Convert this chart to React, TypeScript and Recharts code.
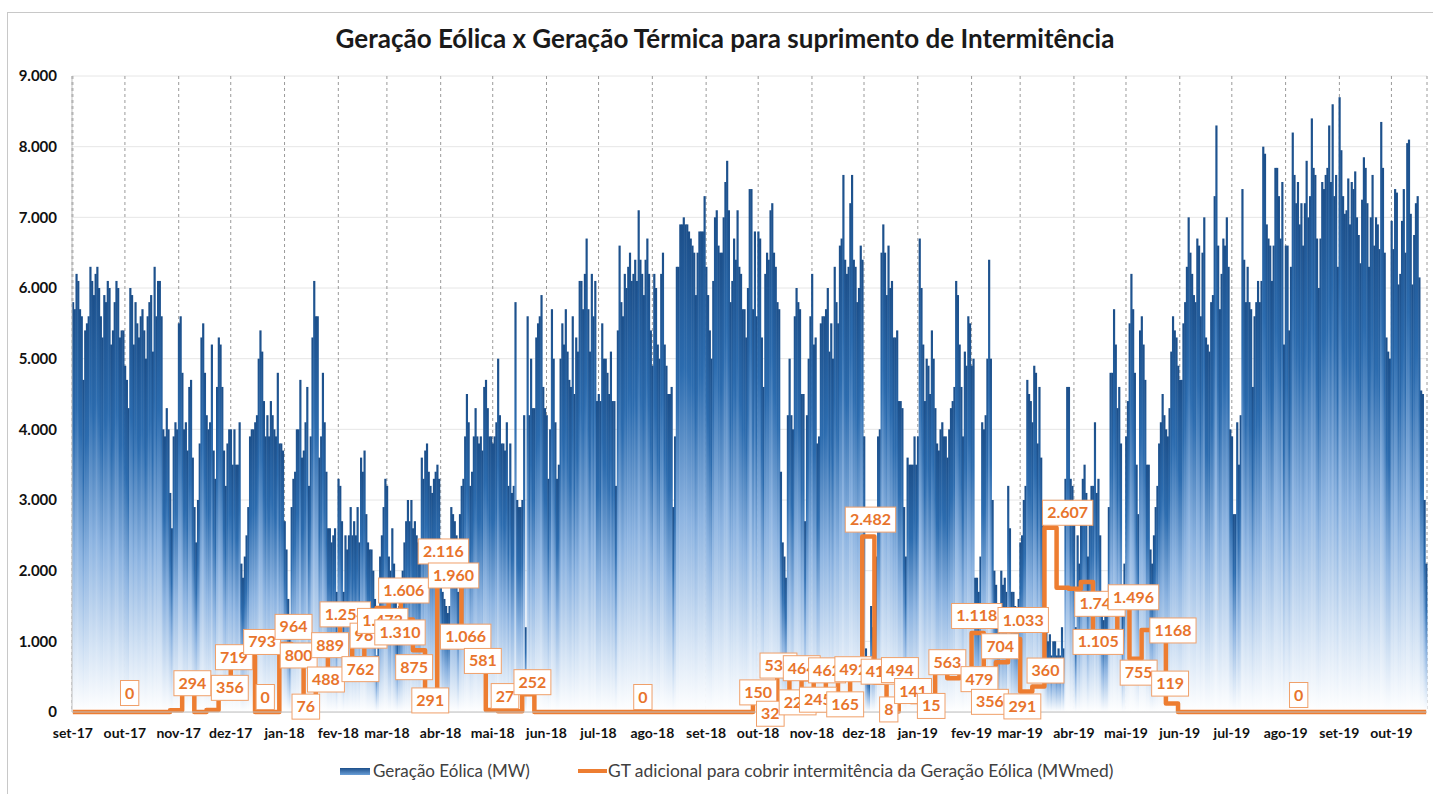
import { ComposedChart, Bar, Line, XAxis, YAxis, CartesianGrid, LabelList } from "recharts";

// Geração eólica diária (MW), um array por mês
const set17 = [5800, 5700, 6200, 6100, 5700, 5600, 4700, 5400, 5500, 5600, 6300, 6100, 5900, 6200, 6300, 6000, 5600, 5300, 5900, 5800, 6100, 6000, 5200, 5400, 5800, 6100, 6000, 5300, 5400, 5400];
const out17 = [4900, 4700, 4300, 6000, 5900, 5200, 5800, 5500, 5300, 5600, 5700, 5400, 5000, 5600, 5800, 5900, 5100, 6300, 5600, 6100, 6100, 5600, 4000, 3900, 4300, 4000, 3100, 2600, 3900, 4100, 4000];
const nov17 = [5500, 5600, 4800, 4000, 4100, 3700, 4600, 4700, 3600, 2900, 2400, 3000, 3800, 5300, 5500, 4800, 4200, 4000, 4100, 5200, 3700, 3300, 4600, 5300, 5200, 4600, 3700, 3200, 3800, 4000];
const dez17 = [4000, 3500, 4000, 3500, 3500, 4100, 2100, 1900, 2200, 2500, 2900, 3900, 4000, 4000, 4100, 4200, 5000, 5400, 5100, 4400, 3900, 4200, 3900, 4400, 4200, 4000, 3900, 4800, 3800, 3800, 3700];
const jan18 = [2700, 2300, 1600, 1200, 2900, 3300, 3400, 4000, 4000, 4700, 3600, 3700, 4100, 4600, 3200, 3900, 5300, 6100, 5600, 5600, 3600, 3900, 4800, 4100, 3400, 2600, 2600, 2400, 2500, 2600, 1700];
const fev18 = [3300, 3200, 2700, 1700, 2500, 2300, 2500, 2900, 2500, 2700, 2500, 2900, 2400, 3600, 3400, 3700, 2800, 2400, 2300, 2300, 2000, 1600, 800, 1200, 2200, 2500, 2900, 3300];
const mar18 = [3200, 2200, 2000, 2600, 2100, 1600, 1100, 1500, 1700, 2000, 2400, 2700, 3000, 2700, 3000, 2600, 2700, 2500, 2400, 2300, 3600, 3300, 3700, 3800, 3400, 3200, 3100, 3300, 3400, 3500, 3300];
const abr18 = [2400, 1700, 1600, 1500, 1400, 1500, 2900, 2800, 2700, 2500, 1700, 2800, 3200, 3300, 3900, 4500, 4100, 3200, 3400, 3900, 4300, 3900, 3800, 3900, 3700, 4600, 4700, 4300, 3900, 3900];
const mai18 = [3800, 3900, 4100, 5000, 4200, 3800, 3800, 3700, 4100, 3200, 3800, 3100, 3200, 5800, 3000, 2900, 2900, 3000, 4200, 1200, 5600, 4200, 5000, 4300, 4300, 5300, 5500, 5600, 5900, 4600, 4300];
const jun18 = [4200, 3300, 4000, 5700, 5000, 4100, 3300, 3500, 5000, 5500, 5200, 5700, 5100, 4700, 4600, 5600, 4500, 5300, 5100, 6100, 6100, 5700, 6200, 6700, 5700, 5100, 6200, 5600, 6100, 4400];
const jul18 = [4500, 4400, 5500, 5000, 5000, 4800, 4500, 5100, 4400, 4400, 3200, 5400, 6600, 5800, 5600, 6200, 6000, 6300, 6500, 6100, 6200, 6400, 6100, 7100, 6400, 6200, 5900, 6400, 6700, 6200, 5400];
const ago18 = [4900, 6200, 6000, 5200, 5000, 6200, 6500, 5200, 4900, 4500, 4500, 4600, 2900, 3900, 6300, 6300, 6900, 6900, 7000, 6900, 6900, 6800, 6700, 6600, 6500, 5900, 6500, 6800, 6800, 6800, 7300];
const set18 = [6300, 5900, 5400, 5000, 6100, 7000, 7100, 6600, 6500, 6500, 7000, 7500, 7800, 7100, 5800, 6100, 6700, 6400, 7100, 6300, 6200, 5700, 5700, 5300, 6000, 7400, 7400, 5700, 6800, 5600];
const out18 = [6800, 6700, 5300, 4600, 6200, 6500, 6400, 7100, 7200, 6500, 6300, 5800, 5700, 3400, 2400, 2200, 1900, 4200, 5000, 4200, 4000, 5600, 6000, 5800, 5700, 4500, 4500, 2700, 4200, 5000, 5600];
const nov18 = [6200, 5200, 5300, 3800, 3900, 5500, 5600, 5600, 5700, 6000, 5100, 5500, 5000, 6300, 5800, 5500, 6600, 6700, 7600, 6400, 6200, 6300, 7200, 7600, 6400, 6300, 5800, 6000, 6600, 6400];
const dez18 = [3900, 900, 600, 500, 1500, 1200, 1300, 2200, 3900, 4000, 6500, 6900, 6500, 5900, 6600, 6000, 6100, 5300, 5300, 5400, 4400, 4400, 4300, 2900, 2200, 3600, 3500, 3500, 3500, 3900, 3500];
const jan19 = [3900, 6700, 6000, 5200, 4400, 5000, 4900, 4500, 5400, 5000, 4300, 3800, 3700, 4000, 4100, 3900, 3900, 3600, 4000, 4300, 4400, 4600, 6100, 5900, 5200, 4600, 3900, 5100, 4900, 5600, 5500];
const fev19 = [4900, 5000, 1900, 1900, 1700, 2200, 4100, 4000, 4200, 5000, 6400, 5000, 3000, 2000, 1800, 1500, 1400, 2000, 1800, 1900, 1700, 3200, 2600, 1700, 1700, 1500, 1400, 1600];
const mar19 = [2400, 2500, 3000, 3200, 4700, 4500, 4400, 4100, 4900, 4800, 3800, 4600, 3600, 2900, 2000, 1300, 1000, 1100, 800, 1000, 1000, 800, 900, 800, 1200, 900, 3300, 4600, 4600, 3300, 3200];
const abr19 = [2700, 1200, 2500, 2100, 2700, 3300, 3500, 3100, 2200, 2900, 3200, 3200, 4100, 3100, 3300, 2500, 1600, 1300, 1500, 1500, 2900, 4800, 4800, 5700, 5200, 4300, 4600, 3800, 1500, 2100];
const mai19 = [3900, 4400, 5500, 6200, 5700, 4800, 3500, 2800, 5400, 5600, 5200, 4700, 3500, 3500, 2300, 2100, 2500, 2900, 3200, 3800, 4100, 4500, 4200, 4000, 3900, 4300, 5100, 5600, 5400, 5300, 4900];
const jun19 = [4700, 4700, 5500, 5800, 6300, 7000, 6500, 6200, 5900, 5800, 6700, 6600, 5600, 6500, 7000, 5300, 5200, 5100, 5800, 5900, 7300, 8300, 6600, 5700, 6200, 6700, 6600, 7000, 6300, 4000];
const jul19 = [3900, 2800, 2800, 4100, 3500, 4200, 7400, 6400, 5800, 6300, 5800, 5700, 4600, 5600, 5800, 6100, 5800, 6100, 8000, 7900, 6900, 6700, 6600, 6100, 6600, 7700, 7700, 7300, 6700, 7500, 5200];
const ago19 = [6600, 6600, 5400, 6300, 8200, 7600, 7200, 7500, 6900, 7200, 6600, 7200, 7800, 7000, 7300, 8400, 7700, 7600, 6700, 6000, 6700, 7500, 7400, 7600, 7700, 8300, 7500, 8600, 7300, 7600, 6300];
const set19 = [8700, 7950, 7300, 7050, 7100, 7550, 6900, 7500, 7400, 7650, 7000, 6750, 6350, 7250, 7850, 7700, 7200, 6300, 7000, 7600, 6600, 7000, 6900, 6550, 8350, 7700, 6500, 5300, 5100, 5000];
const out19 = [6950, 6550, 7400, 7350, 6050, 6200, 6950, 7400, 6500, 8050, 8100, 7050, 6050, 6750, 7200, 7300, 6150, 4550, 4500, 3000, 2100];

const meses: [string, number[]][] = [
  ["set-17", set17], ["out-17", out17], ["nov-17", nov17], ["dez-17", dez17],
  ["jan-18", jan18], ["fev-18", fev18], ["mar-18", mar18], ["abr-18", abr18],
  ["mai-18", mai18], ["jun-18", jun18], ["jul-18", jul18], ["ago-18", ago18],
  ["set-18", set18], ["out-18", out18], ["nov-18", nov18], ["dez-18", dez18],
  ["jan-19", jan19], ["fev-19", fev19], ["mar-19", mar19], ["abr-19", abr19],
  ["mai-19", mai19], ["jun-19", jun19], ["jul-19", jul19], ["ago-19", ago19],
  ["set-19", set19], ["out-19", out19],
];

// GT adicional (MWmed), um valor por semana a partir de 01/09/2017
const gtSemanal = [
  0, 0, 0, 0, 0, 0, 0, 0, 25, 294, 0, 30, 356, 719, 793, 0, 0, 964, 800, 76,
  488, 889, 1254, 762, 967, 1473, 1606, 1310, 875, 291, 2116, 1960, 1066, 581, 27, 10, 10, 252, 0, 0,
  0, 0, 0, 0, 0, 0, 0, 0, 0, 0, 0, 0, 0, 0, 0, 0, 150, 32, 530, 221,
  464, 245, 462, 165, 492, 2482, 415, 8, 494, 141, 15, 563, 479, 560, 1118, 356, 704, 1033, 291, 360,
  2607, 1760, 1743, 1840, 1105, 1105, 1496, 755, 1160, 1168, 119, 0, 0, 0, 0, 0, 0, 0, 0, 0,
  0, 0, 0, 0, 0, 0, 0, 0, 0, 0, 0, 0,
];

// semanas com rótulo e o texto mostrado
const rotuloSemana = [4, 9, 12, 13, 14, 15, 17, 18, 19, 20, 21, 22, 23, 24, 25, 26, 27, 28, 29, 30, 31, 32, 33, 34, 37, 47, 56, 57, 58, 59, 60, 61, 62, 63, 64, 65, 66, 67, 68, 69, 70, 71, 72, 74, 75, 76, 77, 78, 79, 80, 82, 84, 86, 87, 89, 90, 101];
const rotuloTexto = ["0", "294", "356", "719", "793", "0", "964", "800", "76", "488", "889", "1.254", "762", "967", "1.473", "1.606", "1.310", "875", "291", "2.116", "1.960", "1.066", "581", "27", "252", "0", "150", "32", "530", "221", "464", "245", "462", "165", "492", "2.482", "415", "8", "494", "141", "15", "563", "479", "1.118", "356", "704", "1.033", "291", "360", "2.607", "1.743", "1.105", "1.496", "755", "1168", "119", "0"];

// deslocamento (px) das caixas de rótulo, como foram arrumadas à mão no original
const rotuloAjuste: [number, number][] = [
  [3, -19], [5, -8], [6, 1], [-2, -4], [14, -14], [5, -15], [9, -17], [2, 0], [-3, 0], [5, 2],
  [-3, -4], [0, -9], [3, 11], [-1, -8], [1, 13], [10, -8], [-6, 13], [-4, 17], [0, 9], [1, -11],
  [-1, 2], [-1, 0], [4, -10], [14, -14], [5, -12], [-6, -15], [0, -9], [0, 4], [-4, -9], [3, 6],
  [-5, -11], [-1, 5], [-4, -9], [2, 4], [-2, -8], [3, -17], [0, -11], [-3, -2], [-4, -7], [-3, -11],
  [3, -5], [7, -10], [27, 1], [0, -17], [1, 15], [-1, -16], [10, -19], [-3, 15], [8, -16], [18, -15],
  [26, 15], [0, 8], [11, -9], [4, 14], [14, 1], [-1, -20], [-6, -17],
];

const yTicks = [0, 1000, 2000, 3000, 4000, 5000, 6000, 7000, 8000, 9000];

const LEFT = 72;
const RIGHT = 1427;
const FONT = "Lato, 'Open Sans', sans-serif";
const LARANJA = "#ED7D31";

const dados: { dia: number; eolica: number; gt: number | null }[] = [];
const inicioMes: number[] = [];
const nomeMes: Record<number, string> = {};
meses.forEach(([nome, valores]) => {
  inicioMes.push(dados.length);
  nomeMes[dados.length] = nome;
  valores.forEach((v) => dados.push({ dia: dados.length, eolica: v, gt: null }));
});
gtSemanal.forEach((v, semana) => {
  if (semana * 7 < dados.length) dados[semana * 7].gt = v;
});
dados[dados.length - 1].gt = gtSemanal[gtSemanal.length - 1];

const larguraDia = (RIGHT - LEFT) / dados.length;

const rotuloPorDia = new Map<number, number>();
rotuloSemana.forEach((s, i) => rotuloPorDia.set(s * 7, i));

const milhar = (v: number) => String(v).replace(/\B(?=(\d{3})+(?!\d))/g, ".");

function larguraTexto(t: string) {
  let w = 0;
  for (const c of t) w += c === "." ? 4.2 : 9.3;
  return w;
}

// coluna quase encostada na vizinha, deixando só uma fresta leve entre os dias
function ColunaEolica(props: any) {
  const { x, y, width, height } = props;
  if (!height || height <= 0) return null;
  return <rect x={x} y={y} width={width + 0.45} height={height} fill="url(#gradEolica)" />;
}

function RotuloGT(props: any) {
  const { index, value } = props;
  const px = props.x ?? props.viewBox?.x;
  const py = props.y ?? props.viewBox?.y;
  const i = rotuloPorDia.get(index);
  if (i === undefined || value == null || px == null || py == null) return null;
  const texto = rotuloTexto[i];
  const [dx, dy] = rotuloAjuste[i];
  const cx = px + 3 * larguraDia + dx;
  const cy = py + dy;
  const w = larguraTexto(texto) + 9;
  const h = 25;
  return (
    <g>
      <rect x={cx - w / 2} y={cy - h / 2} width={w} height={h} fill="#fff" stroke="#F0A06A" strokeWidth={1} />
      <text x={cx} y={cy + 5.5} textAnchor="middle" fill="#E8742C" fontFamily={FONT} fontWeight={700} fontSize={16}>
        {texto}
      </text>
    </g>
  );
}

export default function App() {
  return (
    <div style={{ position: "absolute", left: 0, top: 0, width: 1433, height: 794, background: "#fff", overflow: "hidden", fontFamily: FONT }}>
      <div style={{ position: "absolute", left: 7, top: 12, width: 1460, height: 820, border: "1px solid #c8c8c8" }} />
      <div
        style={{
          position: "absolute",
          top: 22,
          left: 725,
          transform: "translateX(-50%)",
          whiteSpace: "nowrap",
          fontSize: 26,
          fontWeight: 700,
          color: "#1a1a1a",
        }}
      >
        Geração Eólica x Geração Térmica para suprimento de Intermitência
      </div>

      <div style={{ position: "absolute", left: 0, top: 0 }}>
        <ComposedChart width={1433} height={794} data={dados} margin={{ top: 76, right: 6, bottom: 52, left: 0 }} barCategoryGap={0} barGap={0}>
          <defs>
            <linearGradient id="gradEolica" x1="0" y1="0" x2="0" y2="1">
              <stop offset="0" stopColor="#1c4f8a" />
              <stop offset="0.3" stopColor="#2c6caf" />
              <stop offset="0.6" stopColor="#8db4e1" />
              <stop offset="0.85" stopColor="#d5e4f5" />
              <stop offset="1" stopColor="#ffffff" />
            </linearGradient>
          </defs>
          <CartesianGrid vertical={false} stroke="#e6e6e6" />
          <CartesianGrid horizontal={false} stroke="#9a9a9a" strokeDasharray="3 3" />
          <XAxis
            dataKey="dia"
            type="category"
            ticks={inicioMes}
            interval={0}
            tickFormatter={(d: number) => nomeMes[d] ?? ""}
            tickSize={0}
            tickMargin={16}
            height={30}
            axisLine={{ stroke: "#bfbfbf" }}
            tick={{ fill: "#111", fontSize: 14, fontWeight: 700, fontFamily: FONT }}
          />
          <YAxis
            domain={[0, 9000]}
            ticks={yTicks}
            interval={0}
            width={72}
            tickSize={0}
            tickMargin={15}
            tickFormatter={milhar}
            axisLine={{ stroke: "#bfbfbf" }}
            tickLine={false}
            tick={{ fill: "#111", fontSize: 15, fontWeight: 700, fontFamily: FONT }}
          />
          <YAxis yAxisId="borda" orientation="right" width={0} tick={false} tickLine={false} axisLine={{ stroke: "#d0d0d0" }} />
          <Bar dataKey="eolica" fill="url(#gradEolica)" barSize={larguraDia * 0.999} shape={ColunaEolica} isAnimationActive={false} />
          <Line
            dataKey="gt"
            type="stepAfter"
            stroke={LARANJA}
            strokeWidth={4.5}
            strokeLinejoin="round"
            dot={false}
            activeDot={false}
            connectNulls
            isAnimationActive={false}
          >
            <LabelList content={RotuloGT} />
          </Line>
        </ComposedChart>
      </div>

      <div style={{ position: "absolute", left: 340, top: 768, width: 30, height: 7, background: "linear-gradient(#1c4f8a, #6a9fd8)" }} />
      <div style={{ position: "absolute", left: 373, top: 760, fontSize: 17, color: "#404040", whiteSpace: "nowrap" }}>Geração Eólica (MW)</div>
      <div style={{ position: "absolute", left: 578, top: 769, width: 29, height: 4, background: LARANJA }} />
      <div style={{ position: "absolute", left: 608, top: 760, fontSize: 17.4, color: "#404040", whiteSpace: "nowrap" }}>
        GT adicional para cobrir intermitência da Geração Eólica (MWmed)
      </div>
    </div>
  );
}
